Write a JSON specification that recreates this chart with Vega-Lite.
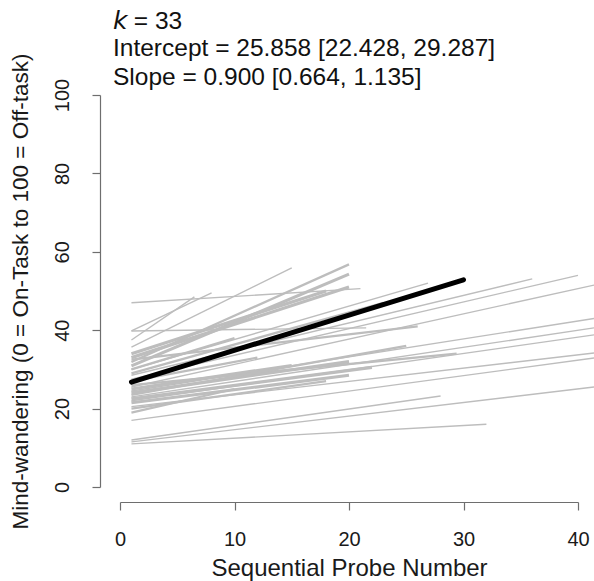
{
  "$schema": "https://vega.github.io/schema/vega-lite/v6.json",
  "autosize": {"type": "none"},
  "padding": {"left": 120, "top": 95, "right": 16, "bottom": 94},
  "width": 458,
  "height": 392,
  "background": "white",
  "config": {
    "view": {"stroke": null},
    "font": "Liberation Sans",
    "axis": {"grid": false, "domainColor": "#6e6e6e", "tickColor": "#6e6e6e", "labelColor": "#1a1a1a", "titleColor": "#1a1a1a", "labelFont": "Liberation Sans", "titleFont": "Liberation Sans", "titleFontWeight": "normal", "tickSize": 8, "domainWidth": 1.2, "tickWidth": 1.2}
  },
  "title": {
    "text": "𝘬 = 33",
    "subtitle": ["Intercept = 25.858 [22.428, 29.287]", "Slope = 0.900 [0.664, 1.135]"],
    "anchor": "start",
    "frame": "group",
    "dx": -7,
    "dy": 16,
    "offset": -22,
    "font": "Liberation Sans",
    "fontSize": 24.5,
    "fontWeight": "normal",
    "color": "#111",
    "subtitleFont": "Liberation Sans",
    "subtitleFontSize": 24.5,
    "subtitleColor": "#111",
    "subtitleLineHeight": 29,
    "subtitlePadding": 3
  },
  "datasets": {
    "studies": [
      {"study": "S01", "probe": 1, "mw": 47.0, "n": 1}, {"study": "S01", "probe": 21, "mw": 50.6, "n": 1},
      {"study": "S02", "probe": 1, "mw": 39.8, "n": 1}, {"study": "S02", "probe": 21.5, "mw": 40.6, "n": 1},
      {"study": "S03", "probe": 1, "mw": 39.8, "n": 1}, {"study": "S03", "probe": 8, "mw": 49.5, "n": 1},
      {"study": "S04", "probe": 1, "mw": 37.5, "n": 1}, {"study": "S04", "probe": 6.5, "mw": 48.5, "n": 1},
      {"study": "S05", "probe": 1, "mw": 35.7, "n": 1}, {"study": "S05", "probe": 15, "mw": 55.9, "n": 1},
      {"study": "S06", "probe": 1, "mw": 31.9, "n": 2}, {"study": "S06", "probe": 20, "mw": 56.8, "n": 2},
      {"study": "S07", "probe": 1, "mw": 30.9, "n": 3}, {"study": "S07", "probe": 20, "mw": 54.3, "n": 3},
      {"study": "S08", "probe": 1, "mw": 33.0, "n": 3}, {"study": "S08", "probe": 20, "mw": 51.0, "n": 3},
      {"study": "S09", "probe": 1, "mw": 34.0, "n": 3}, {"study": "S09", "probe": 18, "mw": 50.0, "n": 3},
      {"study": "S10", "probe": 1, "mw": 30.0, "n": 1}, {"study": "S10", "probe": 26.9, "mw": 52.0, "n": 1},
      {"study": "S11", "probe": 1, "mw": 29.0, "n": 2}, {"study": "S11", "probe": 23, "mw": 47.0, "n": 2},
      {"study": "S12", "probe": 1, "mw": 32.5, "n": 2}, {"study": "S12", "probe": 26, "mw": 41.0, "n": 2},
      {"study": "S13", "probe": 1, "mw": 28.5, "n": 1}, {"study": "S13", "probe": 36, "mw": 53.1, "n": 1},
      {"study": "S14", "probe": 1, "mw": 27.5, "n": 1}, {"study": "S14", "probe": 40, "mw": 54.0, "n": 1},
      {"study": "S15", "probe": 1, "mw": 25.5, "n": 1}, {"study": "S15", "probe": 41.4, "mw": 51.5, "n": 1},
      {"study": "S16", "probe": 1, "mw": 24.5, "n": 1}, {"study": "S16", "probe": 41.4, "mw": 43.0, "n": 1},
      {"study": "S17", "probe": 1, "mw": 23.0, "n": 1}, {"study": "S17", "probe": 41.4, "mw": 40.6, "n": 1},
      {"study": "S18", "probe": 1, "mw": 22.0, "n": 1}, {"study": "S18", "probe": 41.4, "mw": 38.8, "n": 1},
      {"study": "S19", "probe": 1, "mw": 20.5, "n": 1}, {"study": "S19", "probe": 41.4, "mw": 34.2, "n": 1},
      {"study": "S20", "probe": 1, "mw": 17.0, "n": 1}, {"study": "S20", "probe": 41.4, "mw": 32.9, "n": 1},
      {"study": "S21", "probe": 1, "mw": 11.5, "n": 1}, {"study": "S21", "probe": 41.4, "mw": 25.5, "n": 1},
      {"study": "S22", "probe": 1, "mw": 12.0, "n": 1}, {"study": "S22", "probe": 28, "mw": 23.2, "n": 1},
      {"study": "S23", "probe": 1, "mw": 11.0, "n": 1}, {"study": "S23", "probe": 32, "mw": 16.0, "n": 1},
      {"study": "S24", "probe": 1, "mw": 26.0, "n": 2}, {"study": "S24", "probe": 29.4, "mw": 34.0, "n": 2},
      {"study": "S25", "probe": 1, "mw": 24.0, "n": 3}, {"study": "S25", "probe": 20, "mw": 32.0, "n": 3},
      {"study": "S26", "probe": 1, "mw": 22.5, "n": 3}, {"study": "S26", "probe": 22, "mw": 30.5, "n": 3},
      {"study": "S27", "probe": 1, "mw": 21.5, "n": 3}, {"study": "S27", "probe": 20, "mw": 28.5, "n": 3},
      {"study": "S28", "probe": 1, "mw": 20.0, "n": 2}, {"study": "S28", "probe": 18, "mw": 27.0, "n": 2},
      {"study": "S29", "probe": 1, "mw": 25.0, "n": 3}, {"study": "S29", "probe": 15, "mw": 31.0, "n": 3},
      {"study": "S30", "probe": 1, "mw": 23.5, "n": 2}, {"study": "S30", "probe": 25, "mw": 36.0, "n": 2},
      {"study": "S31", "probe": 1, "mw": 19.0, "n": 2}, {"study": "S31", "probe": 10, "mw": 25.0, "n": 2},
      {"study": "S32", "probe": 1, "mw": 27.0, "n": 2}, {"study": "S32", "probe": 12, "mw": 33.0, "n": 2},
      {"study": "S33", "probe": 1, "mw": 30.0, "n": 2}, {"study": "S33", "probe": 10, "mw": 38.0, "n": 2}
    ],
    "fit": [
      {"probe": 1, "mw": 26.758},
      {"probe": 30, "mw": 52.858}
    ]
  },
  "layer": [
    {
      "data": {"name": "studies"},
      "mark": {"type": "line", "clip": false, "color": "#bdbdbd", "strokeCap": "butt"},
      "encoding": {
        "x": {"field": "probe", "type": "quantitative", "scale": {"domain": [0, 40], "nice": false, "zero": false},
              "axis": {"values": [0, 10, 20, 30, 40], "offset": 15, "title": "Sequential Probe Number", "labelFontSize": 20, "titleFontSize": 24, "labelPadding": 19, "titlePadding": 7, "labelFlush": false}},
        "y": {"field": "mw", "type": "quantitative", "scale": {"domain": [0, 100], "nice": false},
              "axis": {"values": [0, 20, 40, 60, 80, 100], "offset": 20, "title": "Mind-wandering (0 = On-Task to 100 = Off-task)", "labelAngle": 270, "labelFontSize": 20, "titleFontSize": 22.5, "labelPadding": 20, "titlePadding": 20, "labelFlush": false}},
        "detail": {"field": "study"},
        "strokeWidth": {"field": "n", "type": "quantitative", "scale": {"domain": [1, 3], "range": [1.4, 3.2]}, "legend": null}
      }
    },
    {
      "data": {"name": "fit"},
      "mark": {"type": "line", "clip": false, "color": "#000000", "strokeWidth": 5, "strokeCap": "round"},
      "encoding": {
        "x": {"field": "probe", "type": "quantitative"},
        "y": {"field": "mw", "type": "quantitative"}
      }
    }
  ]
}
